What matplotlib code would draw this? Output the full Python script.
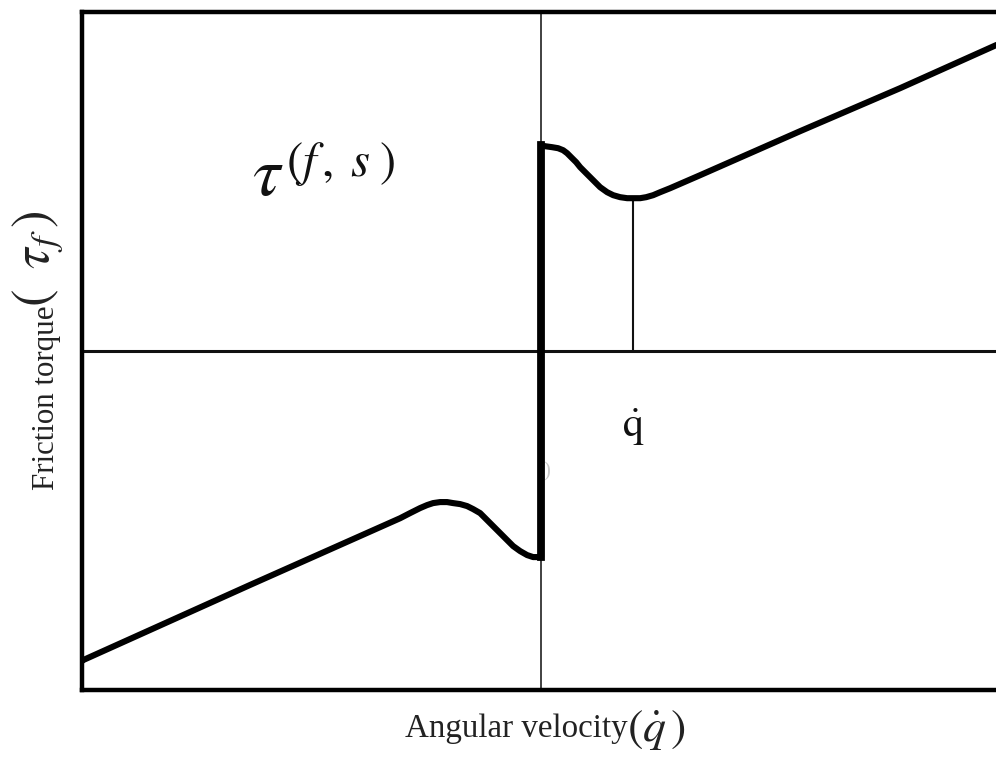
import matplotlib
matplotlib.use("Agg")
import matplotlib.pyplot as plt

plt.rcParams["font.family"] = ["Liberation Serif", "DejaVu Serif"]
plt.rcParams["mathtext.fontset"] = "stix"

# Stribeck-type friction curve (normalised velocity / torque units)
vel_neg = [-1.0, -0.998, -0.634, -0.307, -0.2854, -0.2636, -0.2484, -0.2353,
           -0.2200, -0.2048, -0.1917, -0.1765, -0.1612, -0.1481, -0.1329,
           -0.1198, -0.1046, -0.0893, -0.0741, -0.0610, -0.0458, -0.0305,
           -0.0174, -0.0065, 0.0]
torque_neg = [-0.915, -0.912, -0.690, -0.493, -0.4779, -0.4631, -0.4543, -0.4484,
              -0.4454, -0.4454, -0.4484, -0.4513, -0.4572, -0.4661, -0.4779,
              -0.4956, -0.5162, -0.5369, -0.5575, -0.5752, -0.5900, -0.6018,
              -0.6077, -0.6077, -0.6077]

vel_pos = [0.0, 0.0087, 0.0240, 0.0370, 0.0479, 0.0566, 0.0675, 0.0763,
           0.0850, 0.0980, 0.1133, 0.1285, 0.1438, 0.1569, 0.1721, 0.1874,
           0.2004, 0.2157, 0.2288, 0.2440, 0.2593, 0.2810, 0.346, 0.564,
           0.782, 0.991, 1.0]
torque_pos = [0.6077, 0.6047, 0.6018, 0.5988, 0.5929, 0.5841, 0.5693, 0.5575,
              0.5428, 0.5251, 0.5044, 0.4838, 0.4690, 0.4602, 0.4543, 0.4513,
              0.4513, 0.4513, 0.4543, 0.4602, 0.4690, 0.4808, 0.519, 0.649,
              0.776, 0.903, 0.907]

# Stribeck velocity marker
v_stribeck = 0.2004
tau_stribeck = 0.4513

fig = plt.figure(figsize=(9.96, 7.65), dpi=100)
ax = fig.add_axes([0.0823, 0.098, 0.922, 0.886])
ax.set_xlim(-1, 1)
ax.set_ylim(-1, 1)
ax.set_xticks([])
ax.set_yticks([])
for side in ("left", "top", "bottom"):
    ax.spines[side].set_linewidth(3.2)
    ax.spines[side].set_color("black")
ax.spines["right"].set_visible(False)

# coordinate axes through the origin
ax.axhline(0, color="#111111", lw=2.2, zorder=2)
ax.axvline(0, color="#333333", lw=1.3, zorder=2)

# marker line at the Stribeck velocity
ax.plot([v_stribeck, v_stribeck], [0, tau_stribeck], color="#111111", lw=1.5, zorder=2)

# friction curve
vel = vel_neg + vel_pos
tau = torque_neg + torque_pos
ax.plot(vel, tau, color="black", lw=4.4, solid_capstyle="butt",
        solid_joinstyle="round", zorder=3)
# static friction jump at zero velocity
ax.plot([vel_neg[-1], vel_pos[0]], [torque_neg[-1], torque_pos[0]],
        color="black", lw=5.6, zorder=4)

# annotations
ax.text(-0.63, 0.46, r"$\tau$", fontsize=50, color="#111111", ha="left", va="baseline")
ax.text(-0.555, 0.517, r"$(f\,,\;s\;)$", fontsize=35, color="#111111",
        ha="left", va="baseline")
ax.text(0.2004, -0.225, r"$\dot{\mathrm{q}}$", fontsize=30, color="#111111",
        ha="center", va="center")
ax.text(0.013, -0.355, ")", fontsize=15, color="#c8c8c8", ha="center", va="center")

# axis titles, with enlarged brackets around the symbols
W, H = 996.0, 765.0
fig.text(405 / W, 1 - 737 / H, "Angular velocity", fontsize=23.8,
         color="#222222", ha="left", va="baseline")
fig.text(627 / W, 1 - 741 / H, r"$(\dot{q}\,)$", fontsize=33,
         color="#222222", ha="left", va="baseline")
fig.text(47 / W, 1 - 490 / H, "Friction torque", fontsize=22.3,
         color="#222222", ha="center", va="bottom", rotation=90)
fig.text(38 / W, 1 - 307 / H, r"$(\;\;\tau_f\,)$", fontsize=38,
         color="#222222", ha="center", va="bottom", rotation=90)

fig.savefig("out.png", dpi=100, facecolor="white")
